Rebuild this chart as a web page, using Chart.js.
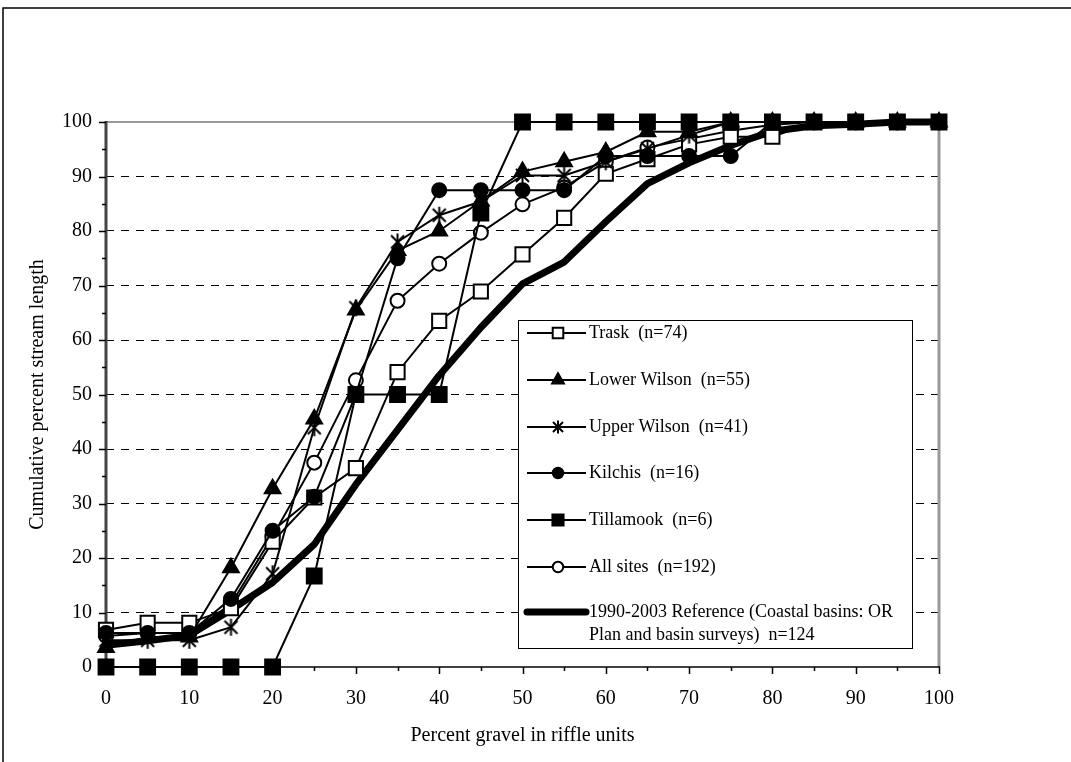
<!DOCTYPE html>
<html>
<head>
<meta charset="utf-8">
<script src="https://cdn.jsdelivr.net/npm/chart.js@4.4.0/dist/chart.umd.min.js"></script>
<style>
  html, body { margin: 0; padding: 0; background: #fff; }
  canvas { display: block; }
</style>
</head>
<body>
<canvas id="gravelChart" width="1071" height="762"></canvas>
<script>
// percent gravel classes (x)
const gravelPct = [0, 5, 10, 15, 20, 25, 30, 35, 40, 45, 50, 55, 60, 65, 70, 75, 80, 85, 90, 95, 100];

// cumulative percent stream length per basin
const trask = [6.8, 8.1, 8.1, 10.8, 23.0, 31.1, 36.5, 54.1, 63.5, 68.9, 75.7, 82.4, 90.5, 93.2, 95.9, 97.3, 97.3, 100, 100, 100, 100];
const lowerWilson = [3.6, 5.5, 5.5, 18.2, 32.7, 45.5, 65.5, 76.4, 80.0, 85.5, 90.9, 92.7, 94.5, 98.2, 98.2, 100, 100, 100, 100, 100, 100];
const upperWilson = [4.9, 4.9, 4.9, 7.3, 17.1, 43.9, 65.9, 78.0, 82.9, 85.4, 90.2, 90.2, 92.7, 95.1, 97.6, 100, 100, 100, 100, 100, 100];
const kilchis = [6.25, 6.25, 6.25, 12.5, 25, 31.25, 50, 75, 87.5, 87.5, 87.5, 87.5, 93.75, 93.75, 93.75, 93.75, 100, 100, 100, 100, 100];
const tillamook = [0, 0, 0, 0, 0, 16.7, 50, 50, 50, 83.3, 100, 100, 100, 100, 100, 100, 100, 100, 100, 100, 100];
const allSites = [5.7, 6.25, 6.25, 11.5, 24.0, 37.5, 52.6, 67.2, 74.0, 79.7, 84.9, 88.0, 92.7, 95.3, 96.9, 98.4, 99.5, 100, 100, 100, 100];
const reference = [4.0, 4.8, 5.8, 10.5, 15.5, 22.5, 33.5, 43.5, 53.5, 62.3, 70.3, 74.3, 81.7, 88.7, 92.5, 95.7, 98.3, 99.3, 99.6, 100, 100];

const seriesLabels = [
    'Trask  (n=74)',
    'Lower Wilson  (n=55)',
    'Upper Wilson  (n=41)',
    'Kilchis  (n=16)',
    'Tillamook  (n=6)',
    'All sites  (n=192)',
    ['1990-2003 Reference (Coastal basins: OR', 'Plan and basin surveys)  n=124']
];

const FONT = '"Liberation Serif", "Times New Roman", serif';

function toPoints(values) {
    return values.map((v, i) => ({ x: gravelPct[i], y: v }));
}

// excel style asterisk marker (X plus vertical bar)
function drawAsterisk(ctx, cx, cy, r) {
    ctx.save();
    ctx.strokeStyle = '#000';
    ctx.lineWidth = 2;
    ctx.beginPath();
    ctx.moveTo(cx - r, cy - r); ctx.lineTo(cx + r, cy + r);
    ctx.moveTo(cx + r, cy - r); ctx.lineTo(cx - r, cy + r);
    ctx.moveTo(cx, cy - r * 1.3); ctx.lineTo(cx, cy + r * 1.3);
    ctx.stroke();
    ctx.restore();
}

function makeAsteriskImage(r) {
    const c = document.createElement('canvas');
    const s = Math.ceil(r * 2.8) + 2;
    c.width = s;
    c.height = s;
    drawAsterisk(c.getContext('2d'), s / 2, s / 2, r);
    return c;
}

const asteriskImg = makeAsteriskImage(6.5);

function lineSet(label, values, extra) {
    return Object.assign({
        label: label,
        data: toPoints(values),
        borderColor: '#000',
        borderWidth: 2,
        pointBorderColor: '#000',
        pointBorderWidth: 2,
        pointBackgroundColor: '#000',
        tension: 0,
        clip: false
    }, extra);
}

// higher order is drawn first (underneath)
const datasets = [
    lineSet(seriesLabels[0], trask, { pointStyle: 'rect', pointRadius: 10, pointBackgroundColor: '#fff', order: 6 }),
    lineSet(seriesLabels[1], lowerWilson, { pointStyle: 'triangle', pointRadius: 9, order: 5 }),
    lineSet(seriesLabels[2], upperWilson, { pointStyle: asteriskImg, pointRadius: 7, order: 4 }),
    lineSet(seriesLabels[3], kilchis, { pointStyle: 'circle', pointRadius: 7, order: 3 }),
    lineSet(seriesLabels[4], tillamook, { pointStyle: 'rect', pointRadius: 10.5, order: 0 }),
    lineSet(seriesLabels[5], allSites, { pointStyle: 'circle', pointRadius: 7, pointBackgroundColor: '#fff', order: 7 }),
    lineSet(seriesLabels[6], reference, { borderWidth: 7, pointRadius: 0, borderJoinStyle: 'round', borderCapStyle: 'round', order: 10 })
];

// frame, axes, ticks, legend box and page border
const framePlugin = {
    id: 'frame',
    beforeDatasetsDraw(chart) {
        const { ctx, chartArea: a } = chart;
        ctx.save();
        ctx.strokeStyle = '#9a9a9a';
        ctx.lineWidth = 2;
        ctx.beginPath();
        ctx.moveTo(a.left, a.top); ctx.lineTo(a.right, a.top);
        ctx.stroke();
        ctx.lineWidth = 3;
        ctx.beginPath();
        ctx.moveTo(a.right, a.top); ctx.lineTo(a.right, a.bottom);
        ctx.stroke();
        ctx.strokeStyle = '#444';
        ctx.lineWidth = 3;
        ctx.beginPath();
        ctx.moveTo(a.left, a.top - 1); ctx.lineTo(a.left, a.bottom);
        ctx.stroke();
        ctx.strokeStyle = '#000';
        ctx.lineWidth = 1.5;
        ctx.beginPath();
        ctx.moveTo(a.left, a.bottom); ctx.lineTo(a.right + 1, a.bottom);
        ctx.stroke();
        ctx.restore();
    },
    afterDraw(chart) {
        const { ctx, chartArea: a, scales } = chart;
        ctx.save();
        ctx.strokeStyle = '#000';
        ctx.lineWidth = 1.5;
        ctx.beginPath();
        for (let v = 0; v <= 100; v += 5) {
            const len = v % 10 === 0 ? 7 : 4;
            const py = Math.round(scales.y.getPixelForValue(v)) + 0.5;
            ctx.moveTo(a.left - len, py); ctx.lineTo(a.left, py);
            const px = Math.round(scales.x.getPixelForValue(v)) + 0.5;
            ctx.moveTo(px, a.bottom); ctx.lineTo(px, a.bottom + len);
        }
        ctx.stroke();

        // legend
        const box = { left: 518, top: 320, right: 912, bottom: 648 };
        ctx.fillStyle = '#fff';
        ctx.fillRect(box.left, box.top, box.right - box.left, box.bottom - box.top);
        ctx.strokeStyle = '#000';
        ctx.lineWidth = 1;
        ctx.strokeRect(box.left + 0.5, box.top + 0.5, box.right - box.left, box.bottom - box.top);
        const rowY = [333, 380, 427, 473, 520, 567, 612];
        const x0 = 527, x1 = 586, mx = 558, tx = 589;
        ctx.font = '18px ' + FONT;
        ctx.textBaseline = 'middle';
        ctx.textAlign = 'left';
        chart.data.datasets.forEach((ds, i) => {
            const y = rowY[i];
            ctx.save();
            ctx.strokeStyle = '#000';
            ctx.lineWidth = ds.borderWidth;
            ctx.lineCap = ds.borderWidth > 3 ? 'round' : 'butt';
            ctx.beginPath();
            ctx.moveTo(x0, y); ctx.lineTo(x1, y);
            ctx.stroke();
            ctx.restore();
            if (ds.pointRadius > 0) {
                if (ds.pointStyle === asteriskImg) {
                    drawAsterisk(ctx, mx, y, 5);
                } else {
                    ctx.save();
                    ctx.fillStyle = ds.pointBackgroundColor;
                    ctx.strokeStyle = '#000';
                    ctx.lineWidth = 2;
                    Chart.helpers.drawPoint(ctx, {
                        pointStyle: ds.pointStyle,
                        rotation: 0,
                        radius: ds.pointRadius * 0.75,
                        borderWidth: 2
                    }, mx, y);
                    ctx.restore();
                }
            }
            ctx.fillStyle = '#000';
            const lines = Array.isArray(ds.label) ? ds.label : [ds.label];
            lines.forEach((t, k) => ctx.fillText(t, tx, y + k * 23));
        });

        // outer page border
        ctx.strokeStyle = '#000';
        ctx.lineWidth = 1.5;
        ctx.beginPath();
        ctx.moveTo(3, 762); ctx.lineTo(3, 8); ctx.lineTo(1071, 8);
        ctx.stroke();
        ctx.restore();
    }
};

const ctx = document.getElementById('gravelChart').getContext('2d');
new Chart(ctx, {
    type: 'line',
    data: { datasets: datasets },
    plugins: [framePlugin],
    options: {
        responsive: false,
        animation: false,
        devicePixelRatio: 1,
        layout: { padding: { left: 0, top: 122, right: 132, bottom: 0 } },
        plugins: {
            legend: { display: false },
            tooltip: { enabled: false }
        },
        scales: {
            x: {
                type: 'linear',
                min: 0,
                max: 100,
                afterFit: (scale) => { scale.height = 95; },
                grid: { display: false, drawTicks: false },
                border: { display: false },
                ticks: {
                    stepSize: 10,
                    padding: 20,
                    color: '#000',
                    font: { family: FONT, size: 20 }
                },
                title: {
                    display: true,
                    text: 'Percent gravel in riffle units',
                    color: '#000',
                    font: { family: FONT, size: 20 },
                    padding: { top: 0, bottom: 14 }
                }
            },
            y: {
                min: 0,
                max: 100,
                afterFit: (scale) => { scale.width = 106; },
                grid: {
                    drawTicks: false,
                    lineWidth: 1,
                    color: (c) => (c.tick && c.tick.value > 0 && c.tick.value < 100) ? '#000' : 'rgba(0,0,0,0)'
                },
                border: { display: false, dash: [8, 7] },
                ticks: {
                    stepSize: 10,
                    padding: 14,
                    color: '#000',
                    font: { family: FONT, size: 20 }
                },
                title: {
                    display: true,
                    text: 'Cumulative percent stream length',
                    color: '#000',
                    font: { family: FONT, size: 20 },
                    padding: { top: 26, bottom: 0 }
                }
            }
        }
    }
});
</script>
</body>
</html>
